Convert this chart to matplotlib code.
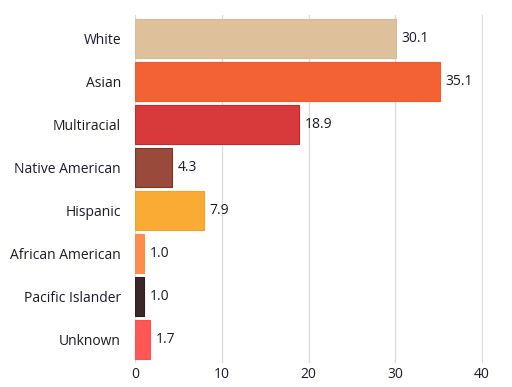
import matplotlib.pyplot as plt

categories = ['White', 'Asian', 'Multiracial', 'Native American', 'Hispanic',
              'African American', 'Pacific Islander', 'Unknown']
values = [30.1, 35.1, 18.9, 4.3, 7.9, 1.0, 1.0, 1.7]
colors = ['#DEC19B', '#F26234', '#D83A3B', '#9A4A3A', '#F9AB33',
          '#FF8F4F', '#3B2828', '#FF5656']
edges = ['#D8BA94', '#F05A2C', '#C8282A', '#7E3322', '#F5A12A',
         '#FF8A48', '#2E1E1E', '#FF4E4E']
xticks = [0, 10, 20, 30, 40]

plt.rcParams['font.family'] = ['Open Sans', 'DejaVu Sans']

fig = plt.figure(figsize=(5.12, 3.87), dpi=100)
ax = fig.add_axes([135 / 512, 1 - 363 / 387, 348 / 512, 348 / 387])

pos = list(range(len(categories)))
ax.barh(pos, values, height=0.91, color=colors, edgecolor=edges, linewidth=0.8, zorder=3)
for p, v in zip(pos, values):
    ax.text(v + 0.65, p, '%.1f' % v, va='center', ha='left', fontsize=10,
            color='#1b1b2a', zorder=4)

ax.set_ylim(len(categories) - 0.5 + 0.045, -0.5 - 0.045)
ax.set_xlim(0, 40.1)
ax.set_yticks(pos)
ax.set_yticklabels(categories)
ax.set_xticks(xticks)
ax.tick_params(axis='both', length=0, labelsize=10, colors='#1b1b2a')
ax.tick_params(axis='y', pad=10)
ax.tick_params(axis='x', pad=3)
ax.xaxis.grid(True, color='#dcdcdc', linewidth=1, zorder=0)
for s in ax.spines.values():
    s.set_visible(False)

fig.savefig('out.png', dpi=100)
